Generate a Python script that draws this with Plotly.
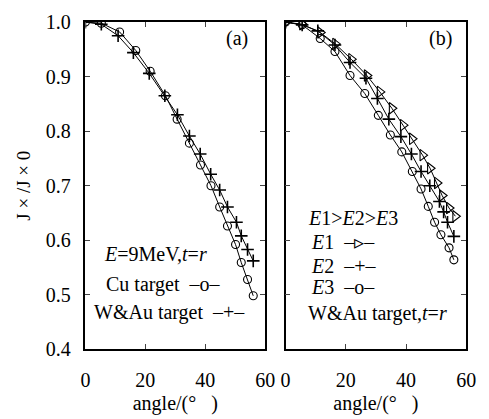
import plotly.graph_objects as go

# Panel (a)
cu_angle = [0, 5.3, 11.4, 16.8, 21.6, 26.7, 30.6, 34.7, 38.4, 41.9, 44.8, 47.4, 50.1, 52.0, 54.1, 56.0]
cu_ratio = [1.0, 0.998, 0.982, 0.948, 0.910, 0.865, 0.822, 0.778, 0.738, 0.700, 0.661, 0.626, 0.592, 0.559, 0.528, 0.498]
wau_angle = [0, 5.3, 10.9, 16.0, 21.3, 26.5, 30.7, 34.7, 38.3, 41.8, 44.8, 47.4, 50.4, 52.0, 54.1, 56.0]
wau_ratio = [1.0, 0.996, 0.975, 0.944, 0.906, 0.865, 0.830, 0.791, 0.758, 0.721, 0.692, 0.661, 0.633, 0.608, 0.583, 0.562]

# Panel (b)
e1_angle = [0, 5.5, 11.5, 16.5, 21.8, 27.0, 31.3, 35.3, 39.0, 42.0, 45.5, 48.0, 50.3, 52.0, 54.3, 56.4]
e1_ratio = [1.0, 0.996, 0.981, 0.960, 0.932, 0.902, 0.872, 0.842, 0.811, 0.786, 0.756, 0.732, 0.705, 0.682, 0.659, 0.644]
e2_angle = [0, 5.5, 10.7, 16.4, 21.4, 26.7, 30.5, 34.3, 38.3, 41.8, 45.0, 47.9, 51.1, 52.5, 53.8, 55.9]
e2_ratio = [1.0, 0.995, 0.984, 0.958, 0.926, 0.897, 0.860, 0.822, 0.790, 0.758, 0.726, 0.700, 0.671, 0.652, 0.633, 0.607]
e3_angle = [0, 5.5, 11.5, 16.4, 21.4, 26.3, 30.8, 34.8, 38.6, 42.1, 45.0, 47.4, 49.5, 51.6, 54.3, 55.9]
e3_ratio = [1.0, 0.995, 0.970, 0.946, 0.902, 0.869, 0.829, 0.793, 0.762, 0.726, 0.694, 0.662, 0.633, 0.610, 0.586, 0.564]

x_ticks = [0, 20, 40, 60]
y_ticks = [0.4, 0.5, 0.6, 0.7, 0.8, 0.9, 1.0]

FONT = "Liberation Serif"
NB = "\u00a0"
fig = go.Figure()

def add(x, y, sym, xa, ya, size=8, lw=1.1):
    fig.add_trace(go.Scatter(
        x=x, y=y, mode="lines+markers", xaxis=xa, yaxis=ya,
        line=dict(color="black", width=1),
        marker=dict(symbol=sym, size=size, color="black",
                    line=dict(color="black", width=lw)),
        showlegend=False))

add(cu_angle, cu_ratio, "circle-open", "x", "y")
add(wau_angle, wau_ratio, "cross-thin-open", "x", "y", size=9, lw=1.6)
add(e1_angle, e1_ratio, "triangle-right-open", "x2", "y2", size=10)
add(e2_angle, e2_ratio, "cross-thin-open", "x2", "y2", size=9, lw=1.6)
add(e3_angle, e3_ratio, "circle-open", "x2", "y2")

axcommon = dict(range=[0, 60], tickvals=x_ticks, ticks="inside", ticklen=5,
                showline=True, linecolor="black", linewidth=1.5, mirror="ticks",
                showgrid=False, zeroline=False, ticklabelstandoff=12,
                tickfont=dict(family=FONT, size=20, color="black"),
                title=dict(text="angle/(°" + NB * 3 + ")",
                           font=dict(family=FONT, size=20, color="black"),
                           standoff=6))
aycommon = dict(range=[0.4, 1.0], tickvals=y_ticks, ticks="inside", ticklen=5,
                showline=True, linecolor="black", linewidth=1.5, mirror="ticks",
                showgrid=False, zeroline=False, ticklabelstandoff=9,
                tickfont=dict(family=FONT, size=20, color="black"))

fig.update_layout(
    width=489, height=419,
    margin=dict(l=0, r=0, t=0, b=0),
    paper_bgcolor="white", plot_bgcolor="white",
    xaxis=dict(domain=[0.1697, 0.549], anchor="y", **axcommon),
    xaxis2=dict(domain=[0.592, 0.973], anchor="y2", **axcommon),
    yaxis=dict(domain=[0.148, 0.972], anchor="x", tickformat=".1f",
               title=dict(text="J × /J × 0", font=dict(family=FONT, size=19, color="black"),
                          standoff=10), **aycommon),
    yaxis2=dict(domain=[0.148, 0.972], anchor="x2", showticklabels=False, **aycommon),
)

def ann(text, x, y, xref, yref, size=20, xanchor="center"):
    fig.add_annotation(text=text, x=x, y=y, xref=xref, yref=yref, showarrow=False,
                       font=dict(family=FONT, size=size, color="black"), xanchor=xanchor)

ann("(a)", 50.6, 0.970, "x", "y")
ann("(b)", 51.3, 0.970, "x2", "y2")
ann("<i>E</i>=9MeV,<i>t</i>=<i>r</i>", 23.5, 0.575, "x", "y")
ann("Cu target" + NB * 2 + "‒o‒", 26, 0.518, "x", "y")
ann("W&amp;Au target" + NB * 2 + "‒+‒", 28, 0.468, "x", "y")
ann("<i>E</i>1&gt;<i>E</i>2&gt;<i>E</i>3", 6.7, 0.64, "x2", "y2", xanchor="left")
ann("<i>E</i>1" + NB * 2 + "‒▹‒", 7.7, 0.597, "x2", "y2", xanchor="left")
ann("<i>E</i>2" + NB * 2 + "‒+‒", 7.7, 0.553, "x2", "y2", xanchor="left")
ann("<i>E</i>3" + NB * 2 + "‒o‒", 7.7, 0.515, "x2", "y2", xanchor="left")
ann("W&amp;Au target,<i>t</i>=<i>r</i>", 6.7, 0.466, "x2", "y2", xanchor="left")

fig.write_html("out.html")
